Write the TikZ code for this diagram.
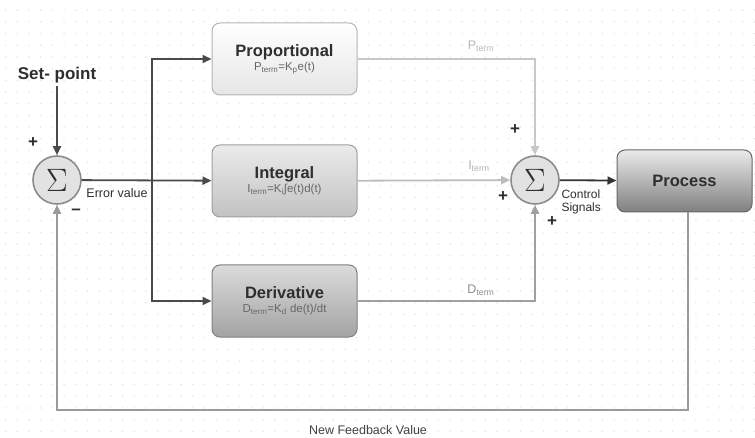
\documentclass[tikz,border=0pt]{standalone}
\usepackage{fontspec}
\setmainfont{Liberation Sans}
\usetikzlibrary{arrows.meta}
\usetikzlibrary{positioning}
\definecolor{dotc}{HTML}{E6E6E6}
\definecolor{darkln}{HTML}{4A4A4A}
\definecolor{plin}{HTML}{C8C8C8}
\definecolor{ilin}{HTML}{BDBDBD}
\definecolor{dlin}{HTML}{A0A0A0}
\definecolor{fblin}{HTML}{9A9A9A}
\definecolor{sumfill}{HTML}{E2E2E2}
\definecolor{sumline}{HTML}{8C8C8C}
\definecolor{txt}{HTML}{2E2E2E}

\begin{document}
\begin{tikzpicture}[x=1pt,y=-1pt,
  every node/.style={text=txt,font=\fontsize{12}{14}\selectfont},
  sum/.style={draw=sumline,circle,line width=1.6pt,fill=sumfill,minimum size=48pt,inner sep=0pt,font=\fontsize{24}{24}\selectfont},
  blk/.style={rounded corners=8pt,minimum width=145pt,minimum height=72pt,align=center,line width=1pt},
  title/.style={font=\fontsize{16.5}{20}\selectfont\bfseries},
  sign/.style={font=\fontsize{17}{17}\selectfont\bfseries,inner sep=0pt},
  darr/.style={draw=darkln,line width=1.8pt,-{Triangle[length=9pt,width=8pt]}},
  lbl/.style={font=\fontsize{12.5}{14}\selectfont}]
\useasboundingbox (0,0) rectangle (755,438);
% dotted background
\foreach \i in {0,...,64}
  \foreach \j in {0,...,37}
    \fill[dotc] (5.6+11.7*\i,10.1+11.7*\j) circle (0.9);

% blocks
\node[blk,draw=plin!90!black,top color=white,bottom color=black!10] (prop) at (284.5,59)
  {{\fontsize{16.5}{22}\selectfont\bfseries Proportional}\\[0pt]{\fontsize{11.5}{13}\selectfont\color{black!60}P\textsubscript{term}=K\textsubscript{p}e(t)}};
\node[blk,draw=black!38,top color=black!8,bottom color=black!24] (integ) at (284.5,181)
  {{\fontsize{16.5}{22}\selectfont\bfseries Integral}\\[0pt]{\fontsize{11.5}{13}\selectfont\color{black!60}I\textsubscript{term}=K\textsubscript{i}∫e(t)d(t)}};
\node[blk,draw=black!50,top color=black!14,bottom color=black!36] (deriv) at (284.5,301)
  {{\fontsize{16.5}{22}\selectfont\bfseries Derivative}\\[0pt]{\fontsize{11.5}{13}\selectfont\color{black!60}D\textsubscript{term}=K\textsubscript{d} de(t)/dt}};
\node[blk,draw=black!60,top color=black!8,bottom color=black!50,minimum width=135pt,minimum height=62pt,title] (proc) at (684.5,181) {Process};

% summing junctions
\node[sum] (s1) at (57,180) {\scalebox{1.3}{$\Sigma$}};
\node[sum] (s2) at (535,180) {\scalebox{1.3}{$\Sigma$}};

\node[font=\fontsize{17}{20}\selectfont\bfseries] (sp) at (57,75) {Set- point};
\coordinate (br) at (152,180);
\coordinate (fbc) at (400,410);

\draw[darr] (sp) -- (s1);
\draw[darr] (s1) -- (integ);
\draw[darr] (br) |- (prop);
\draw[darr] (br) |- (deriv);
\draw[draw=plin,line width=1.8pt,-{Triangle[length=9pt,width=8pt]}] (prop) -| (s2);
\draw[draw=ilin,line width=1.8pt,-{Triangle[length=9pt,width=8pt]}] (integ) -- (s2);
\draw[draw=dlin,line width=1.8pt,-{Triangle[length=9pt,width=8pt]}] (deriv) -| (s2);
\draw[darr,draw=black!80] (s2) -- (proc);
\draw[draw=fblin,line width=1.8pt,-{Triangle[length=9pt,width=8pt]}] (proc.south -| 688,0) |- (fbc) -| (s1);

% labels
\node[lbl] (ev) at (117,193) {Error value};
\node[lbl,text=black!28] (pt) at (481,46) {P\textsubscript{term}};
\node[lbl,text=black!30] (it) at (479,166) {I\textsubscript{term}};
\node[lbl,text=black!45] (dt) at (481,290) {D\textsubscript{term}};
\node[lbl,anchor=west,align=left,font=\fontsize{12}{13}\selectfont] (cs) at (558,202) {Control\\Signals};
\node[lbl,text=black!75] (nf) at (368,430) {New Feedback Value};

% signs
\node[sign] (p1) at (33,143) {+};
\node[sign] (m1) at (76,212) {--};
\node[sign] (p2) at (515,130) {+};
\node[sign] (p3) at (503,197) {+};
\node[sign] (p4) at (552,222) {+};
\end{tikzpicture}
\end{document}
